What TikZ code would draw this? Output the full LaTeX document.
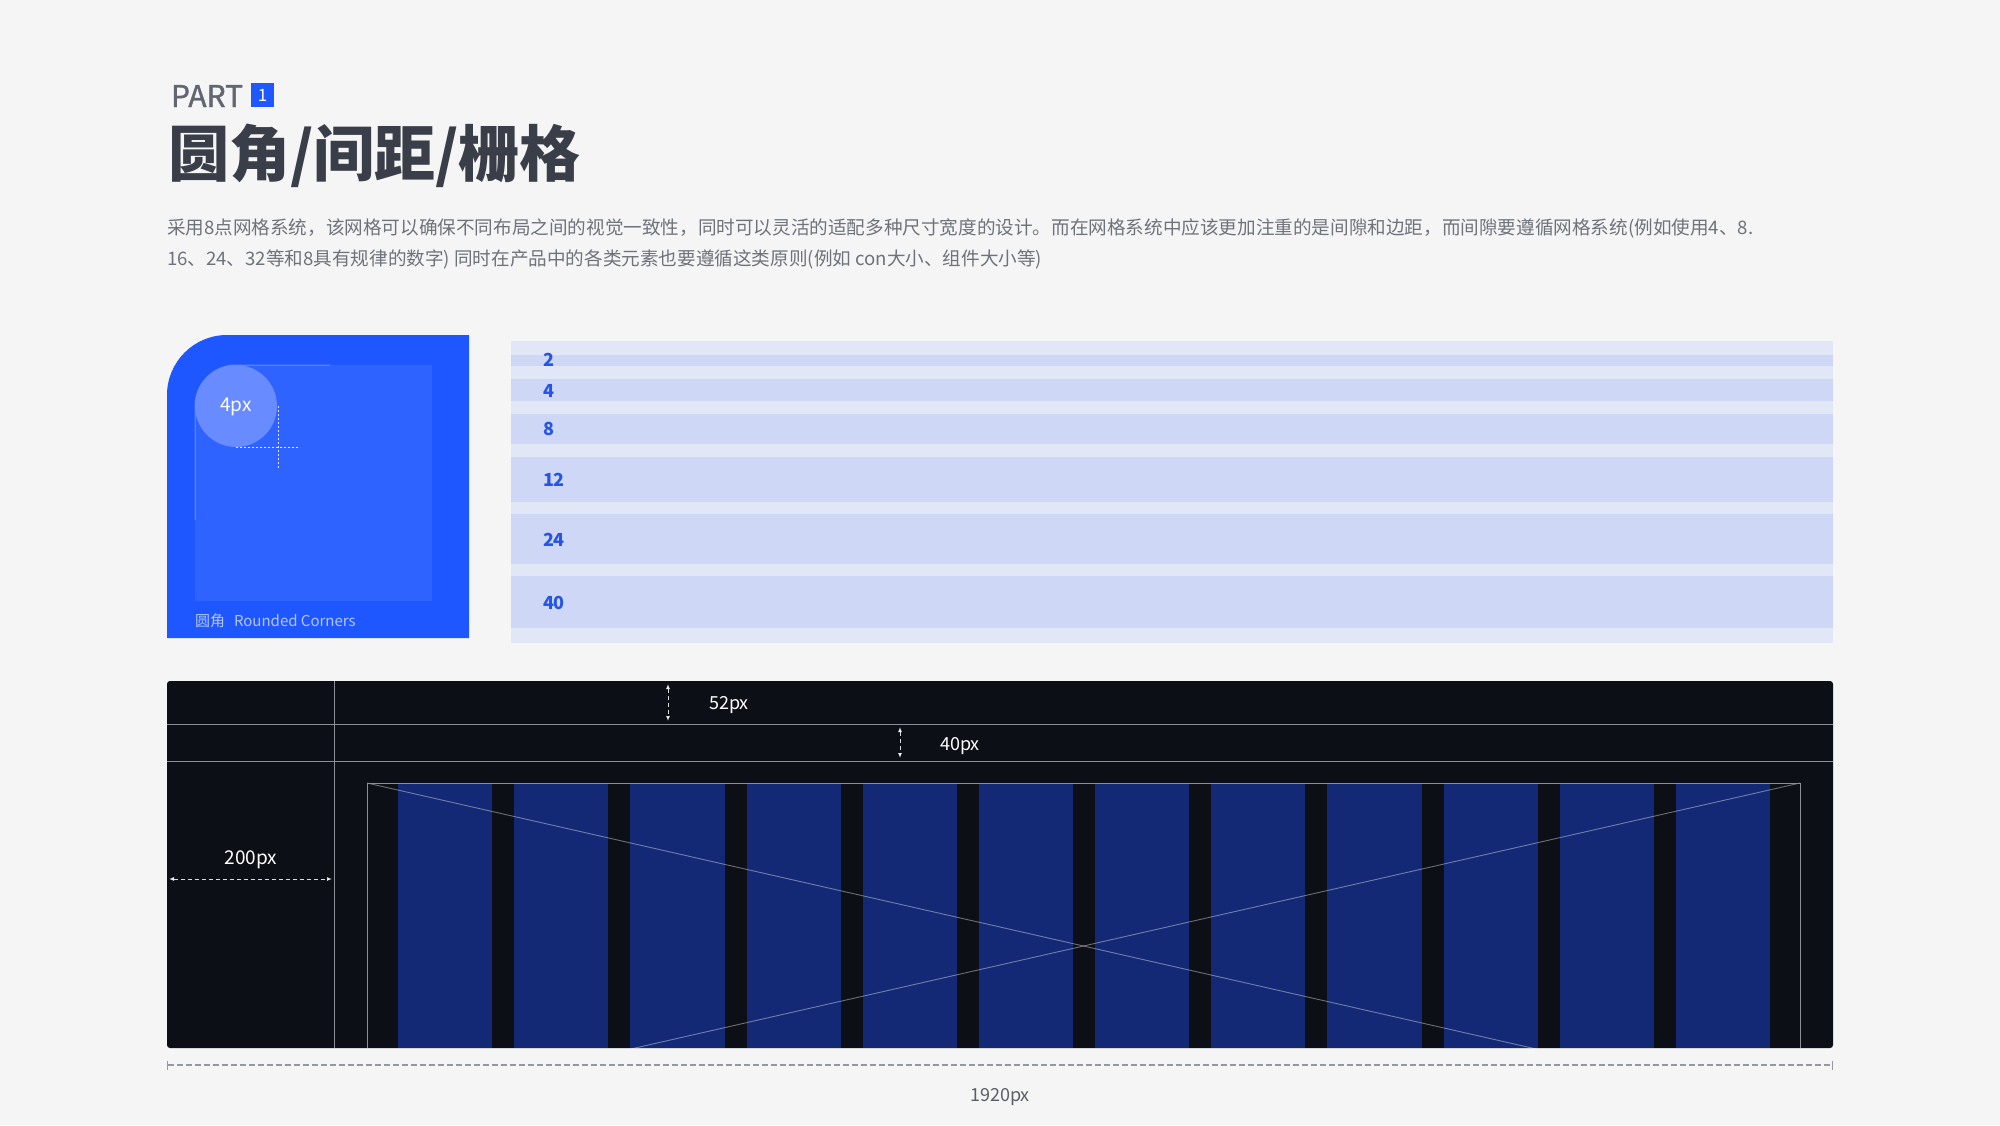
\documentclass[tikz,border=0pt]{standalone}
\usepackage{fontspec}
\setmainfont{Noto Sans CJK SC}
\newfontfamily\partfont[FakeBold=1.3]{Noto Sans CJK SC}
\usetikzlibrary{arrows.meta}
\definecolor{bg}{RGB}{245,245,246}
\definecolor{titlec}{RGB}{58,62,72}
\definecolor{partc}{RGB}{98,102,112}
\definecolor{parac}{RGB}{110,114,122}
\definecolor{partbox}{RGB}{32,88,255}
\definecolor{cardblue}{RGB}{30,86,255}
\definecolor{cardinner}{RGB}{47,99,255}
\definecolor{circc}{RGB}{104,140,255}
\definecolor{cardlabel}{RGB}{178,198,255}
\definecolor{stripebg}{RGB}{226,231,247}
\definecolor{stripeband}{RGB}{206,216,246}
\definecolor{stripetext}{RGB}{38,84,230}
\definecolor{darkc}{RGB}{13,15,23}
\definecolor{colc}{RGB}{19,41,118}
\definecolor{linec}{RGB}{140,143,152}
\definecolor{dimc}{RGB}{150,152,160}
\definecolor{dimtext}{RGB}{90,94,102}
\tikzset{
  fs/.style={font=\fontsize{#1}{#1}\selectfont},
  plain/.style={inner sep=0pt, outer sep=0pt},
  band/.style={fill=stripeband},
  bandlabel/.style={plain, anchor=west, text=stripetext, font=\fontsize{18}{18}\selectfont\bfseries},
  column/.style={fill=colc},
  gridline/.style={draw=linec, line width=1pt},
  dimarrow/.style={white, opacity=0.85, line width=1pt, dash pattern=on 4pt off 3pt,
     {Latex[length=5pt,width=4pt]}-{Latex[length=5pt,width=4pt]}},
  dimlabel/.style={plain, text=white, font=\fontsize{18}{18}\selectfont},
}
\begin{document}
\begin{tikzpicture}[x=1pt,y=-1pt]
\useasboundingbox[fill=bg] (0,0) rectangle (2000,1125);

% ---- heading ----
\node[plain, anchor=base west, text=partc, font=\partfont\fontsize{30}{30}\selectfont] (part) at (171,107) {PART};
\node[plain, fill=partbox, minimum width=23pt, minimum height=24pt, text=white, fs=17] (one) at (262.5,95) {1};
\node[plain, anchor=base west, text=titlec, font=\fontsize{61}{61}\selectfont\bfseries] (title) at (168,176) {圆角/间距/栅格};
\node[plain, anchor=base west, text=parac, fs=18.6] (para1) at (167,234) {采用8点网格系统，该网格可以确保不同布局之间的视觉一致性，同时可以灵活的适配多种尺寸宽度的设计。而在网格系统中应该更加注重的是间隙和边距，而间隙要遵循网格系统(例如使用4、8.};
\node[plain, anchor=base west, text=parac, fs=18.6] (para2) at (167,265) {16、24、32等和8具有规律的数字) 同时在产品中的各类元素也要遵循这类原则(例如 con大小、组件大小等)};

% ---- rounded corner card ----
\fill[cardblue] (167,638) -- (167,395) arc[start angle=180,end angle=270,radius=60] -- (469,335) -- (469,638) -- cycle;
\fill[cardinner] (195,601) -- (195,406) arc[start angle=180,end angle=270,radius=41] -- (432,365) -- (432,601) -- cycle;
\draw[white, opacity=0.3, line width=1pt] (195,520) -- (195,406) arc[start angle=180,end angle=270,radius=41] -- (330,365);
\fill[circc] (236,406) circle[radius=41];
\draw[white, opacity=0.85, line width=0.9pt, dash pattern=on 2pt off 2pt] (236,447) -- (300,447);
\draw[white, opacity=0.85, line width=0.9pt, dash pattern=on 2pt off 2pt] (278,406) -- (278,468);
\node[plain, text=white, fs=19] (fourpx) at (236,407) {4px};
\node[plain, anchor=west, text=cardlabel, fs=15] (cardlab) at (195,621) {圆角\hspace{9pt}Rounded Corners};

% ---- spacing stripes ----
\fill[stripebg] (511,341) rectangle (1833,643);
\fill[band] (511,355) rectangle (1833,366);
\fill[band] (511,379) rectangle (1833,401);
\fill[band] (511,414) rectangle (1833,444);
\fill[band] (511,457) rectangle (1833,502);
\fill[band] (511,514) rectangle (1833,564);
\fill[band] (511,576) rectangle (1833,628);
\node[bandlabel] (s2) at (543,360) {2};
\node[bandlabel] (s4) at (543,391) {4};
\node[bandlabel] (s8) at (543,429) {8};
\node[bandlabel] (s12) at (543,480) {12};
\node[bandlabel] (s24) at (543,540) {24};
\node[bandlabel] (s40) at (543,603) {40};

% ---- grid panel ----
\fill[darkc, rounded corners=3pt] (167,681) rectangle (1833,1048);
\foreach \i in {0,...,11} {
  \fill[column] ({398+\i*116.17},783) rectangle ({398+\i*116.17+94.17},1048);
}
\begin{scope}
  \clip (167,681) rectangle (1833,1048);
  \draw[white, opacity=0.4, line width=0.9pt] (367,783) -- (1800,1109);
  \draw[white, opacity=0.4, line width=0.9pt] (1800,783) -- (367,1109);
\end{scope}
\draw[gridline] (167,724) -- (1833,724);
\draw[gridline] (167,761) -- (1833,761);
\draw[gridline] (334,681) -- (334,1048);
\draw[gridline] (367,1048) -- (367,783) -- (1800,783) -- (1800,1048);

\coordinate (a52t) at (668,684);
\coordinate (a52b) at (668,721);
\coordinate (a40t) at (900,727);
\coordinate (a40b) at (900,758);
\coordinate (a200l) at (169,879);
\coordinate (a200r) at (332,879);
\draw[dimarrow] (a52t) -- (a52b);
\draw[dimarrow] (a40t) -- (a40b);
\draw[dimarrow] (a200l) -- (a200r);
\node[dimlabel] (l52) at (729,705) {52px};
\node[dimlabel] (l40) at (960,746) {40px};
\node[dimlabel, fs=19] (l200) at (251,860) {200px};

% ---- overall width ----
\coordinate (wl) at (167,1065);
\coordinate (wr) at (1833,1065);
\draw[dimc, line width=1.3pt, dash pattern=on 6pt off 3pt, {Bar[width=9pt,line width=1.3pt]}-{Bar[width=9pt,line width=1.3pt]}] (wl) -- (wr);
\node[plain, text=dimtext, fs=18] (l1920) at (1000,1097) {1920px};
\end{tikzpicture}
\end{document}
